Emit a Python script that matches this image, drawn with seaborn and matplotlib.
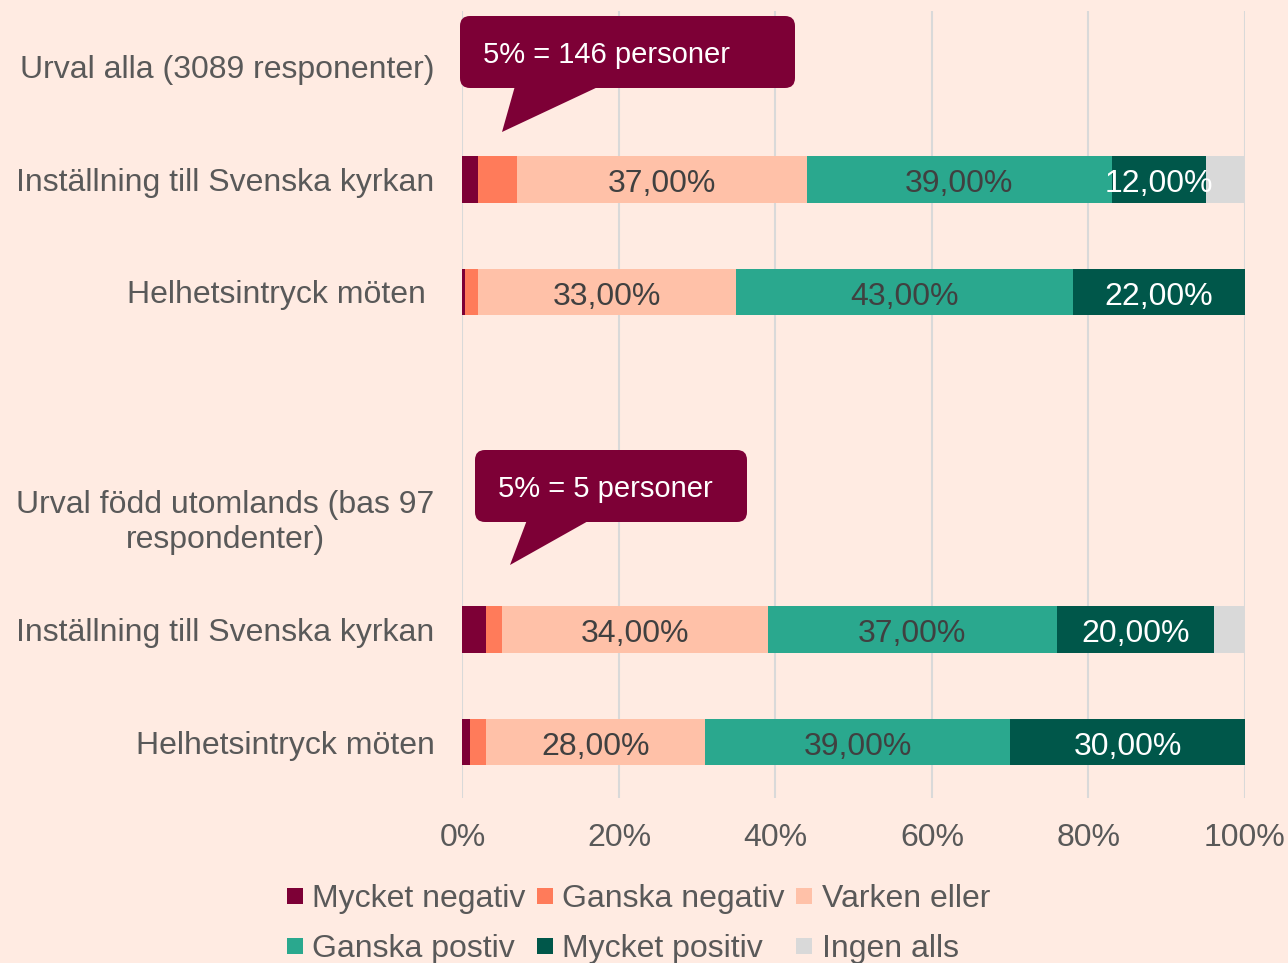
import matplotlib
matplotlib.use("Agg")
import matplotlib.pyplot as plt
import seaborn as sns
import pandas as pd
import numpy as np
from matplotlib.patches import FancyBboxPatch, Polygon
from matplotlib.lines import Line2D

# ---------------- data ----------------
row_labels = [
    "Urval alla (3089 responenter)",
    "Inställning till Svenska kyrkan",
    "Helhetsintryck möten ",
    "",
    "Urval född utomlands (bas 97\nrespondenter)",
    "Inställning till Svenska kyrkan",
    "Helhetsintryck möten",
]
series = ["Mycket negativ", "Ganska negativ", "Varken eller",
          "Ganska postiv", "Mycket positiv", "Ingen alls"]
mycket_negativ = [0, 2, 0.3, 0, 0, 3, 1]
ganska_negativ = [0, 5, 1.7, 0, 0, 2, 2]
varken_eller = [0, 37, 33, 0, 0, 34, 28]
ganska_postiv = [0, 39, 43, 0, 0, 37, 39]
mycket_positiv = [0, 12, 22, 0, 0, 20, 30]
ingen_alls = [0, 5, 0, 0, 0, 4, 0]
labelled_series = ["Varken eller", "Ganska postiv", "Mycket positiv"]
x_ticks = [0, 20, 40, 60, 80, 100]
callout_texts = ["5% = 146 personer", "5% = 5 personer"]

colors = ["#7D0036", "#FF7B5A", "#FFC1A8", "#2AA88E", "#00574A", "#D9D9D9"]
bg = "#FFEBE2"
grey_text = "#595959"

values = [mycket_negativ, ganska_negativ, varken_eller,
          ganska_postiv, mycket_positiv, ingen_alls]
keys = [f"r{i}" for i in range(len(row_labels))]
df = pd.DataFrame({s: v for s, v in zip(series, values)})
df["key"] = keys
cum = df[series].cumsum(axis=1)

# ---------------- figure ----------------
sns.set_theme(style="white")
plt.rcParams["font.family"] = ["Liberation Sans", "DejaVu Sans"]

W, H = 1288, 963
fig = plt.figure(figsize=(W / 100, H / 100), dpi=100)
fig.patch.set_facecolor(bg)

ax_left, ax_right = 462.5, 1245
ax_top, ax_bot = 10.75, 798.25
ax = fig.add_axes([ax_left / W, 1 - ax_bot / H,
                   (ax_right - ax_left) / W, (ax_bot - ax_top) / H])
ax.set_facecolor(bg)

for i in reversed(range(len(series))):
    sns.barplot(x=cum[series[i]], y=df["key"], orient="h", order=keys,
                color=colors[i], width=0.41, saturation=1, linewidth=0,
                ax=ax, zorder=2)

# segment labels
for s in labelled_series:
    j = series.index(s)
    for r in range(len(keys)):
        v = df[s].iloc[r]
        if v <= 0:
            continue
        start = cum[series[j]].iloc[r] - v
        ax.annotate(f"{v:.2f}%".replace(".", ","), xy=(start + v / 2, r),
                    xytext=(0, -5), textcoords="offset pixels",
                    ha="center", va="center", fontsize=23,
                    color="white" if s == "Mycket positiv" else "#404040",
                    zorder=5)

ax.set_xlim(0, 100)
ax.set_ylim(len(keys) - 0.5, -0.5)
ax.set_xticks(x_ticks)
ax.set_xticklabels([f"{t}%" for t in x_ticks])
ax.set_yticks(range(len(keys)))
ax.set_yticklabels(row_labels, multialignment="center")
ax.set_xlabel("")
ax.set_ylabel("")
ax.xaxis.grid(True, color="#D9D9D9", linewidth=1.5, zorder=0)
ax.yaxis.grid(False)
ax.set_axisbelow(True)
for sp in ax.spines.values():
    sp.set_visible(False)
ax.tick_params(axis="x", length=0, pad=18, labelsize=23, labelcolor=grey_text)
ax.tick_params(axis="y", length=0, pad=20, labelsize=23, labelcolor=grey_text)

# legend (row-wise order -> column-wise for matplotlib)
handles = [Line2D([], [], linestyle="none", marker="s", markersize=11.5,
                  markerfacecolor=c, markeredgewidth=0) for c in colors]
order = [0, 3, 1, 4, 2, 5]
leg = fig.legend([handles[i] for i in order], [series[i] for i in order],
                 ncol=3, loc="upper left",
                 bbox_to_anchor=(285 / W, 1 - 884 / H),
                 frameon=False, fontsize=23, handlelength=0.6,
                 handletextpad=0.25, columnspacing=0.3, labelspacing=0.62,
                 borderpad=0, borderaxespad=0)
for t in leg.get_texts():
    t.set_color(grey_text)

# callouts
ov = fig.add_axes([0, 0, 1, 1], zorder=10)
ov.set_xlim(0, W)
ov.set_ylim(H, 0)
ov.axis("off")
ov.patch.set_alpha(0)
boxes = [(460, 16, 335, 72), (475, 450, 272, 72)]
pointers = [[(515, 86), (600, 86), (502, 132)],
            [(527, 520), (590, 520), (510, 565)]]
for (bx, by, bw, bh), pts, txt in zip(boxes, pointers, callout_texts):
    ov.add_patch(FancyBboxPatch((bx, by), bw, bh,
                                boxstyle="round,pad=0,rounding_size=10",
                                facecolor=colors[0], edgecolor="none"))
    ov.add_patch(Polygon(pts, closed=True, facecolor=colors[0],
                         edgecolor="none"))
    ov.text(bx + 23, by + bh / 2 + 3, txt, color="white", fontsize=21,
            ha="left", va="center")

fig.savefig("out.png", dpi=100, facecolor=bg)
